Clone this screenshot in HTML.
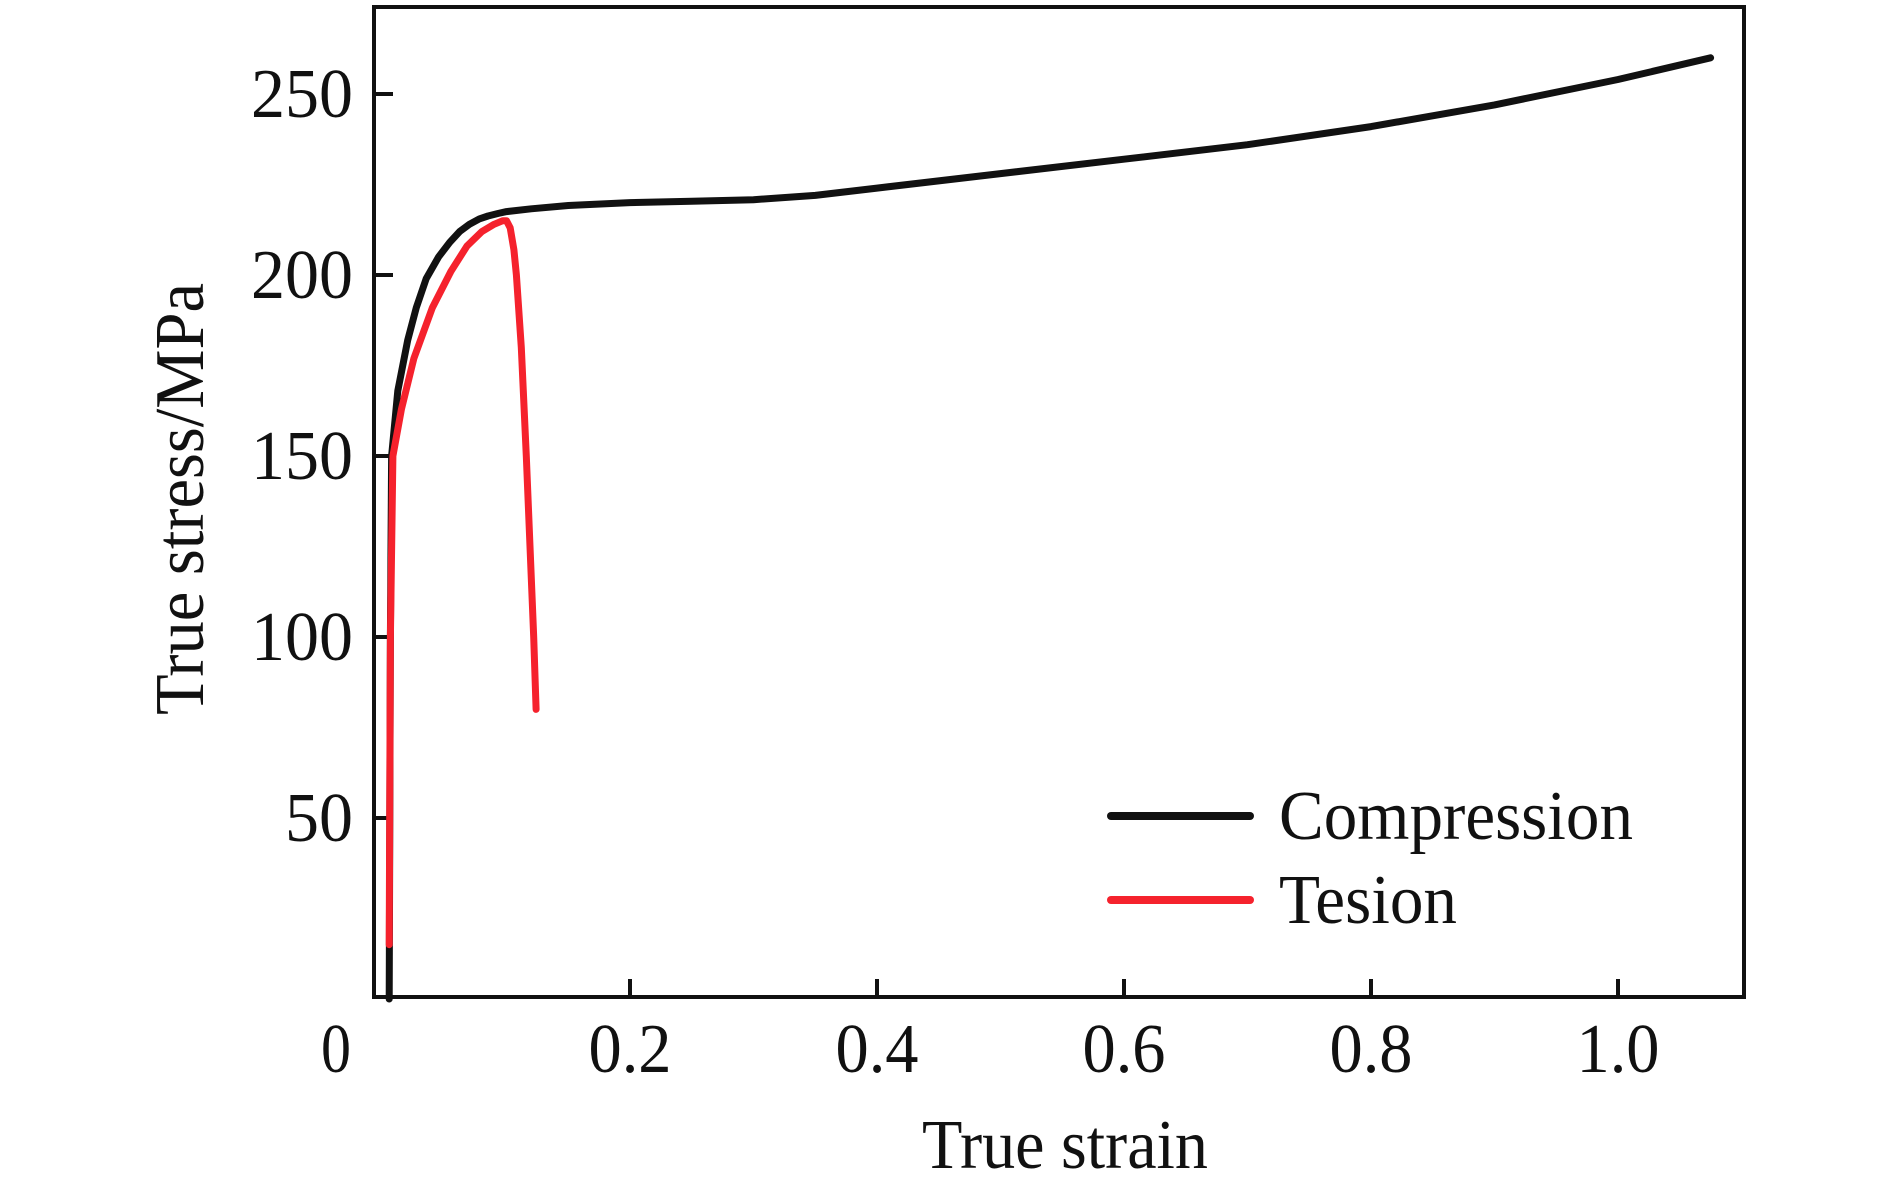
<!DOCTYPE html>
<html><head><meta charset="utf-8"><style>
html,body{margin:0;padding:0;background:#fff;}
svg{display:block;font-family:"Liberation Serif",serif;}
</style></head><body>
<svg id="chart" width="1890" height="1195" viewBox="0 0 1890 1195">
<g id="plot"></g>
</svg>
<script>
const xTicks=[0.2,0.4,0.6,0.8,1.0];
const xTickLabels=["0.2","0.4","0.6","0.8","1.0"];
const yTicks=[50,100,150,200,250];
const yTickLabels=["50","100","150","200","250"];
const compStrain=[0.005,0.006,0.007,0.012,0.02,0.027,0.035,0.045,0.054,0.062,0.07,0.078,0.085,0.093,0.1,0.12,0.15,0.2,0.25,0.3,0.35,0.4,0.5,0.6,0.7,0.8,0.9,1.0,1.075];
const compStress=[0,100,150,168,182,191,199,205,209,212,214,215.5,216.3,217,217.5,218.3,219.2,220,220.4,220.8,222,224,228,232,236,241,247,254,260];
const tensStrain=[0.005,0.006,0.008,0.015,0.025,0.04,0.055,0.068,0.08,0.09,0.097,0.1,0.103,0.106,0.108,0.112,0.116,0.119,0.122,0.124];
const tensStress=[15,100,150,163,177,191,201,208,212,214,215,215,213,207,200,180,150,125,100,80];

const NS="http://www.w3.org/2000/svg";
const svg=document.getElementById('chart');
const L=374,R=1744,T=7,B=997;
function xs(v){return 383+v*1235;}
function ys(v){return 999-v*3.62;}
function mk(tag,attrs,parent){const e=document.createElementNS(NS,tag);for(const k in attrs)e.setAttribute(k,attrs[k]);(parent||svg).appendChild(e);return e;}

const frame=mk('rect',{x:L,y:T,width:R-L,height:B-T,fill:'none',stroke:'#111',"stroke-width":4});



xTicks.forEach((v,i)=>{
  const t=mk('line',{x1:xs(v),x2:xs(v),y1:B,y2:B-18,stroke:'#111',"stroke-width":4});
  
  
  const lb=mk('text',{x:xs(v),y:1072,"text-anchor":'middle',"font-size":70,fill:'#111',textLength:83,lengthAdjust:'spacingAndGlyphs'});
  lb.textContent=xTickLabels[i];
  
  
});
const z=mk('text',{x:336,y:1072,"text-anchor":'middle',"font-size":70,fill:'#111',textLength:30,lengthAdjust:'spacingAndGlyphs'});
z.textContent="0";



yTicks.forEach((v,i)=>{
  const w=yTickLabels[i].length===2?68:102;
  const lb=mk('text',{x:353-w,y:ys(v)+23,"font-size":70,fill:'#111',textLength:w,lengthAdjust:'spacingAndGlyphs'});
  lb.textContent=yTickLabels[i];
  
  
  const t=mk('line',{x1:L,x2:L+19,y1:ys(v),y2:ys(v),stroke:'#111',"stroke-width":4});
  
  
});

const xt=mk('text',{x:922,y:1168,"font-size":70,fill:'#111',textLength:286,lengthAdjust:'spacingAndGlyphs'});
xt.textContent="True strain";


const yt=mk('text',{x:-215,y:0,"font-size":70,fill:'#111',textLength:432,lengthAdjust:'spacingAndGlyphs',transform:'translate(203,500) rotate(-90)'});
yt.textContent="True stress/MPa";



function line(xsArr,ysArr,color){
  const d=xsArr.map((v,i)=>(i?'L':'M')+xs(v).toFixed(1)+' '+ys(ysArr[i]).toFixed(1)).join(' ');
  return mk('path',{d:d,fill:'none',stroke:color,"stroke-width":7,"stroke-linejoin":'round',"stroke-linecap":'round'});
}
const c=line(compStrain,compStress,'#111');


const tn=line(tensStrain,tensStress,'#f5222d');



const l1=mk('line',{x1:1111,x2:1250,y1:816,y2:816,stroke:'#111',"stroke-width":8,"stroke-linecap":'round'});


const t1=mk('text',{x:1279,y:839,"font-size":70,fill:'#111',textLength:354,lengthAdjust:'spacingAndGlyphs'});
t1.textContent="Compression";


const l2=mk('line',{x1:1111,x2:1250,y1:900,y2:900,stroke:'#f5222d',"stroke-width":8,"stroke-linecap":'round'});


const t2=mk('text',{x:1279,y:923,"font-size":70,fill:'#111',textLength:178,lengthAdjust:'spacingAndGlyphs'});
t2.textContent="Tesion";


</script>
</body></html>
